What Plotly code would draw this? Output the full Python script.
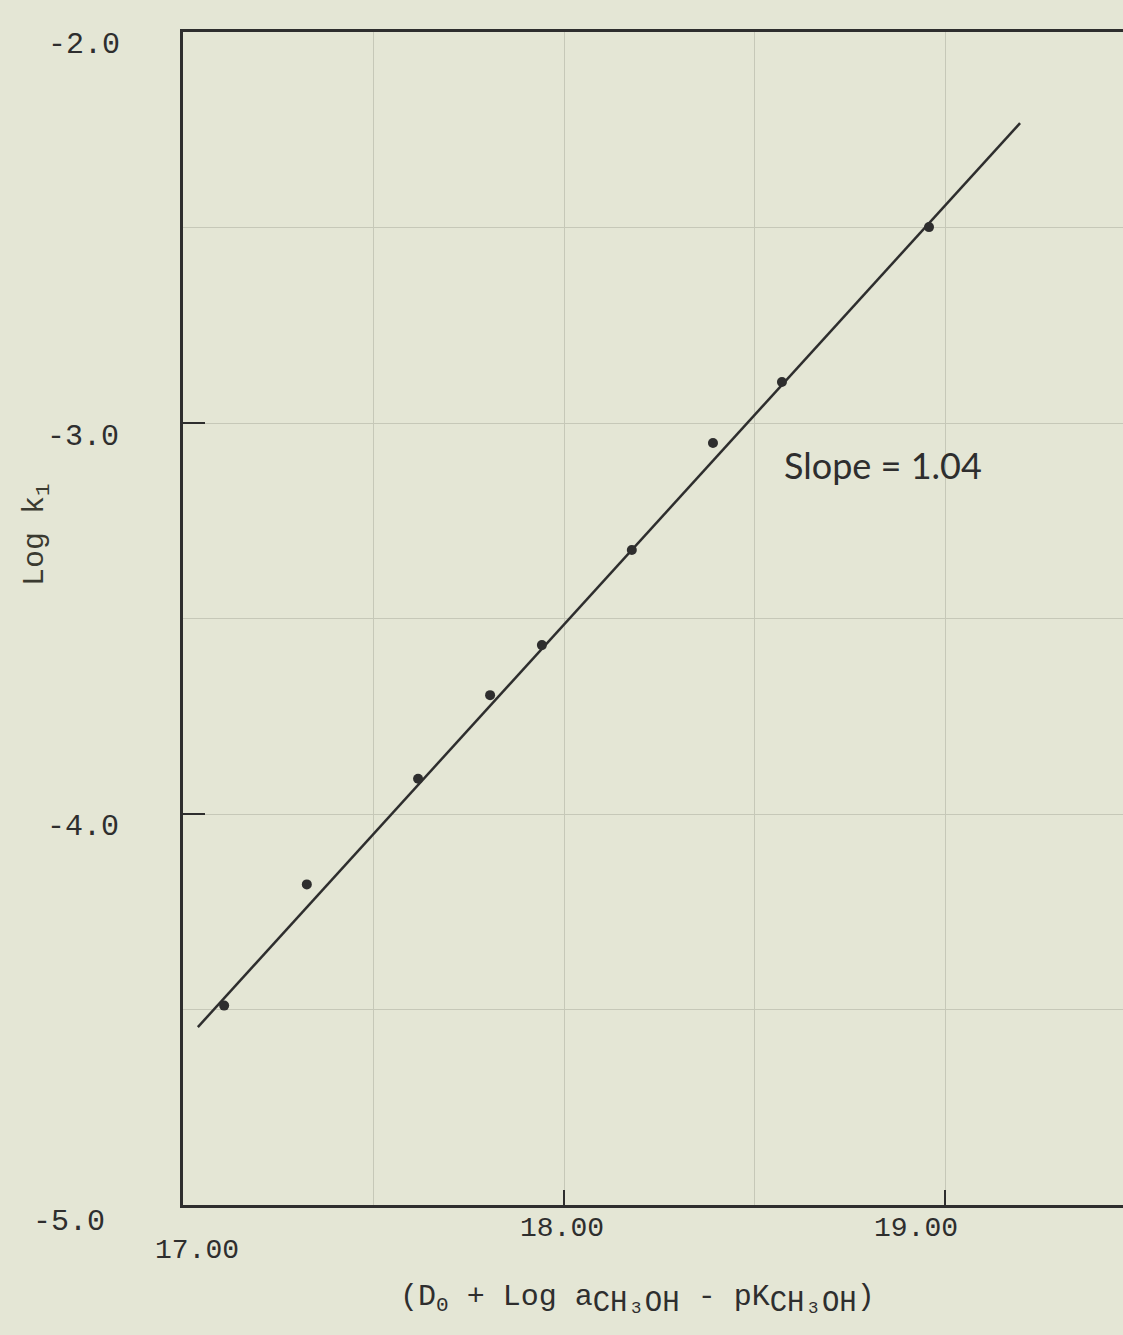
import plotly.graph_objects as go

# Data
x_vals = [17.108, 17.325, 17.617, 17.806, 17.942, 18.178, 18.391, 18.572, 18.958]
y_vals = [-4.49, -4.18, -3.91, -3.696, -3.568, -3.325, -3.051, -2.895, -2.499]

# Fitted line endpoints (slope label 1.04)
fit_x = [17.039, 19.197]
fit_y = [-4.545, -2.233]

y_ticks = [-2.0, -3.0, -4.0, -5.0]
y_tick_text = ["-2.0", "-3.0", "-4.0", "-5.0"]
x_ticks = [17.0, 18.0, 19.0]
x_tick_text = ["17.00", "18.00", "19.00"]

W, H = 1123, 1335
L, T, R, B = 183, 32, 0, 130
PW, PH = W - L - R, H - T - B

def px(xp):
    return (xp - L) / PW

def py(yp):
    return (H - B - yp) / PH

BG = "#e4e6d5"
INK = "#2e2e2e"
GRID = "#c6c8b8"
MONO = "Liberation Mono, Courier New, monospace"

fig = go.Figure()
fig.add_trace(go.Scatter(x=fit_x, y=fit_y, mode="lines",
                         line=dict(color=INK, width=2.5), showlegend=False))
fig.add_trace(go.Scatter(x=x_vals, y=y_vals, mode="markers",
                         marker=dict(color=INK, size=10), showlegend=False))

fig.update_layout(
    width=W, height=H,
    margin=dict(l=L, r=R, t=T, b=B),
    paper_bgcolor=BG, plot_bgcolor=BG,
    showlegend=False,
)
fig.update_xaxes(range=[17.0, 17.0 + PW / 381.0], showline=True, mirror=True,
                 linecolor=INK, linewidth=3, tickvals=x_ticks, showticklabels=False,
                 ticks="inside", ticklen=15, tickwidth=2, tickcolor=INK,
                 showgrid=True, gridcolor=GRID, gridwidth=1, zeroline=False,
                 minor=dict(dtick=0.5, tick0=17.0, showgrid=True, gridcolor=GRID, gridwidth=1, ticks=""))
fig.update_yaxes(range=[-5.0, -2.0], showline=True, mirror=False,
                 linecolor=INK, linewidth=3, tickvals=y_ticks, showticklabels=False,
                 ticks="inside", ticklen=22, tickwidth=2, tickcolor=INK,
                 showgrid=True, gridcolor=GRID, gridwidth=1, zeroline=False,
                 minor=dict(dtick=0.5, tick0=-5.0, showgrid=True, gridcolor=GRID, gridwidth=1, ticks=""))

ann = []
# y tick labels (pixel centres from the reference)
y_label_pos = [(84, 45), (83, 437), (83, 827), (69, 1222)]
for txt, (xp, yp) in zip(y_tick_text, y_label_pos):
    ann.append(dict(text=txt, xref="paper", yref="paper", x=px(xp), y=py(yp),
                    xanchor="center", yanchor="middle", showarrow=False,
                    font=dict(family=MONO, size=30, color=INK)))
x_label_pos = [(197, 1250), (562, 1228), (916, 1228)]
for txt, (xp, yp) in zip(x_tick_text, x_label_pos):
    ann.append(dict(text=txt, xref="paper", yref="paper", x=px(xp), y=py(yp),
                    xanchor="center", yanchor="middle", showarrow=False,
                    font=dict(family=MONO, size=28, color=INK)))
# axis titles
ann.append(dict(text="Log k<sub>1</sub>", xref="paper", yref="paper", x=px(36), y=py(535),
                xanchor="center", yanchor="middle", showarrow=False, textangle=-90,
                font=dict(family=MONO, size=30, color="#3a3a30")))
SUB = "<sub><span style='font-size:29px'>CH₃OH</span></sub>"
ann.append(dict(text="(D<sub>0</sub> + Log a" + SUB + " - pK" + SUB + ")",
                xref="paper", yref="paper", x=px(637), y=py(1300),
                xanchor="center", yanchor="middle", showarrow=False,
                font=dict(family=MONO, size=30, color=INK)))
ann.append(dict(text="Slope = 1.04", xref="paper", yref="paper", x=px(883), y=py(465),
                xanchor="center", yanchor="middle", showarrow=False,
                font=dict(family="Lato, Noto Sans, sans-serif", size=36, color=INK)))
fig.update_layout(annotations=ann)

fig.write_html("out.html")
